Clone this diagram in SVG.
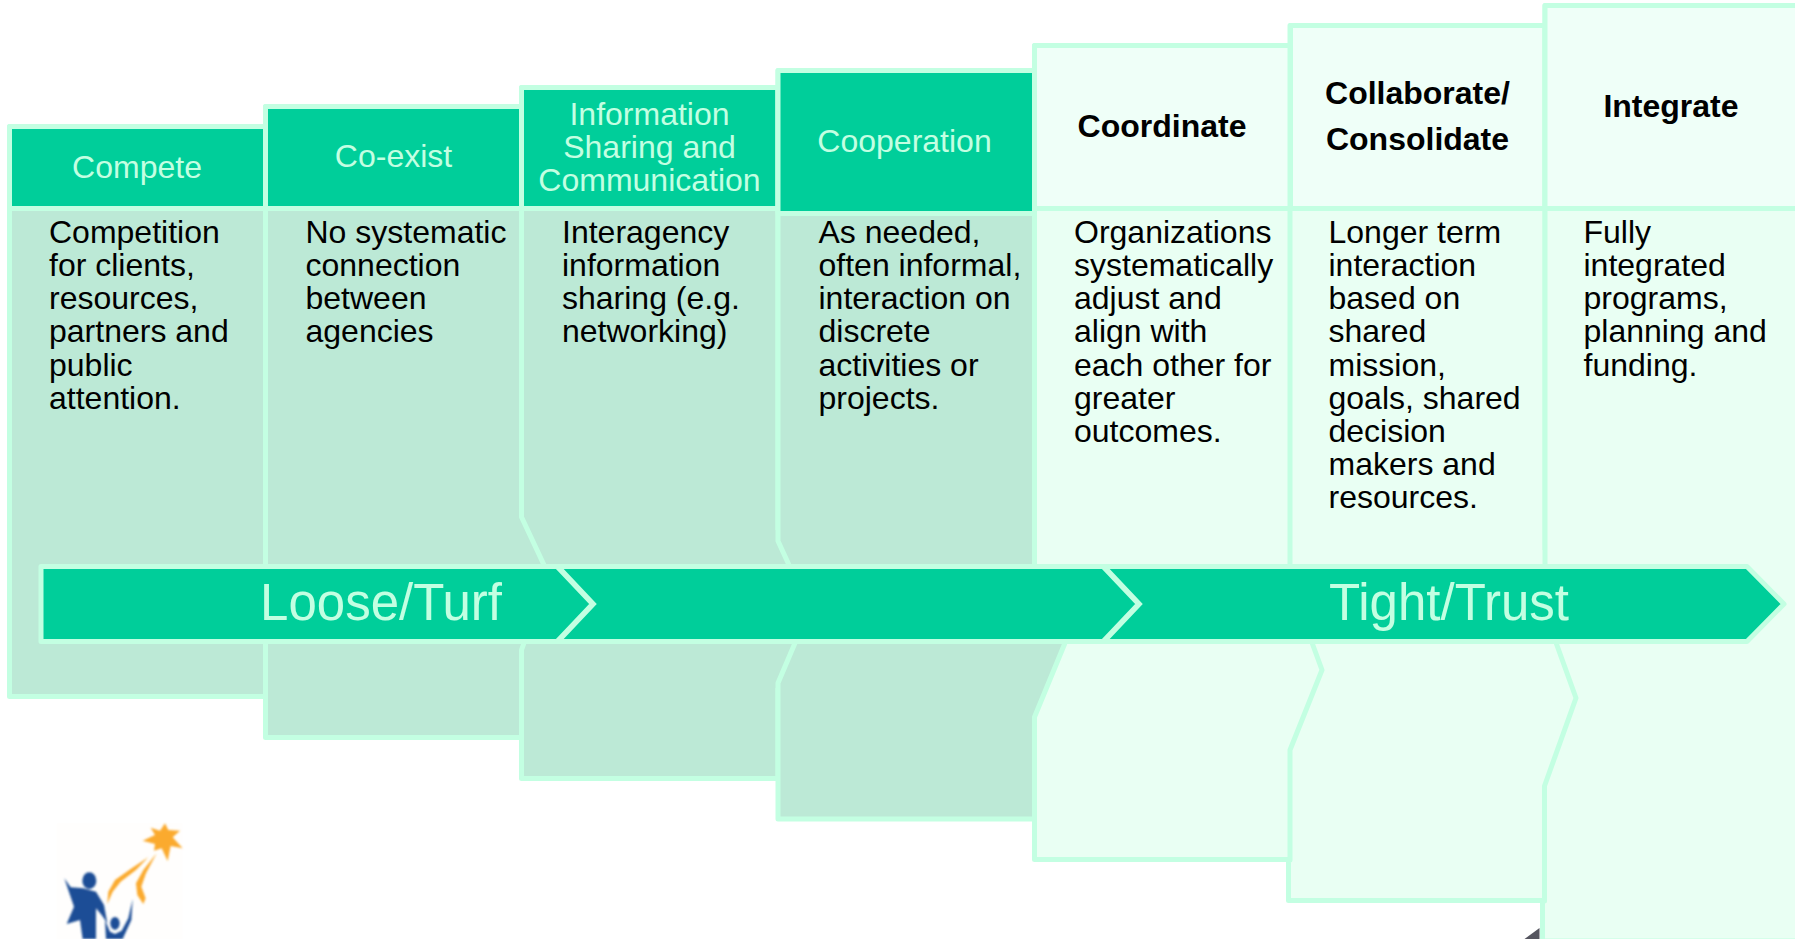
<svg xmlns="http://www.w3.org/2000/svg" width="1795" height="939" viewBox="0 0 1795 939">
<defs>
<style>
.b{stroke:#C3FFE2;stroke-width:5;stroke-linejoin:round}
.dk{fill:#BCE9D6}.lt{fill:#E9FFF3}
.hd{fill:#00CE9A}.hl{fill:#EFFFF8}
.body{font-family:"Liberation Sans",Arial,sans-serif;font-size:32px;fill:#000}
.h1{font-family:"Liberation Sans",Arial,sans-serif;font-size:32px;fill:#C3FFE2;text-anchor:middle}
.h2{font-family:"Liberation Sans",Arial,sans-serif;font-size:32px;font-weight:bold;fill:#000;text-anchor:middle}
.big{font-family:"Liberation Sans",Arial,sans-serif;font-size:51px;fill:#C3FFE2;text-anchor:middle}
.chev{fill:none;stroke:#C3FFE2;stroke-width:5.5}
</style>
<filter id="soft" x="-10%" y="-10%" width="120%" height="120%"><feGaussianBlur stdDeviation="2.5"/></filter>
</defs>
<rect width="1795" height="939" fill="#fff"/>

<g id="compete">
<path class="b dk" d="M9.5 126.5H265.5V696.5H9.5Z"/>
<rect class="b hd" x="9.5" y="126.5" width="256" height="82"/>
<text class="h1" x="137" y="177.5">Compete</text>
<text class="body" y="242.7"><tspan x="49">Competition</tspan><tspan x="49" dy="33.2">for clients,</tspan><tspan x="49" dy="33.2">resources,</tspan><tspan x="49" dy="33.2">partners and</tspan><tspan x="49" dy="33.2">public</tspan><tspan x="49" dy="33.2">attention.</tspan></text>
</g>
<g id="co-exist">
<path class="b dk" d="M265.5 106.5H521.5V737.5H265.5Z"/>
<rect class="dk" x="517" y="500" width="63" height="155"/>
<rect class="b hd" x="265.5" y="106.5" width="256" height="102"/>
<text class="h1" x="393.5" y="167">Co-exist</text>
<text class="body" y="242.7"><tspan x="305.5">No systematic</tspan><tspan x="305.5" dy="33.2">connection</tspan><tspan x="305.5" dy="33.2">between</tspan><tspan x="305.5" dy="33.2">agencies</tspan></text>
</g>
<g id="information-sharing">
<path class="b dk" d="M521.5 87.5H778V778.5H521.5V650L524 643L544 565L521.5 517Z"/>
<rect class="dk" x="774" y="530" width="62" height="158"/>
<rect class="b hd" x="521.5" y="87.5" width="256.5" height="121"/>
<text class="h1" x="649.5" y="125">Information</text>
<text class="h1" x="649.5" y="158">Sharing and</text>
<text class="h1" x="649.5" y="191">Communication</text>
<text class="body" y="242.7"><tspan x="562">Interagency</tspan><tspan x="562" dy="33.2">information</tspan><tspan x="562" dy="33.2">sharing (e.g.</tspan><tspan x="562" dy="33.2">networking)</tspan></text>
</g>
<g id="cooperation">
<path class="b dk" d="M778 70.5H1034.5V819H778V683L795 643L789 565L778 541Z"/>
<rect class="dk" x="1030" y="550" width="63" height="172"/>
<rect class="b hd" x="778" y="70.5" width="256.5" height="143"/>
<text class="h1" x="904.5" y="152">Cooperation</text>
<text class="body" y="242.7"><tspan x="818.5">As needed,</tspan><tspan x="818.5" dy="33.2">often informal,</tspan><tspan x="818.5" dy="33.2">interaction on</tspan><tspan x="818.5" dy="33.2">discrete</tspan><tspan x="818.5" dy="33.2">activities or</tspan><tspan x="818.5" dy="33.2">projects.</tspan></text>
</g>
<g id="coordinate">
<path class="b lt" d="M1034.5 45.5H1290.5V859.5H1034.5V717L1065 643L1034.5 566Z"/>
<rect class="lt" x="1286" y="550" width="62" height="205"/>
<rect class="b hl" x="1034.5" y="45.5" width="256" height="163"/>
<text class="h2" x="1162" y="137">Coordinate</text>
<text class="body" y="242.7"><tspan x="1074">Organizations</tspan><tspan x="1074" dy="33.2">systematically</tspan><tspan x="1074" dy="33.2">adjust and</tspan><tspan x="1074" dy="33.2">align with</tspan><tspan x="1074" dy="33.2">each other for</tspan><tspan x="1074" dy="33.2">greater</tspan><tspan x="1074" dy="33.2">outcomes.</tspan></text>
</g>
<g id="collaborate">
<path class="b lt" d="M1290 25.5H1545V900.5H1288.5V860H1290V750L1322 670L1312.5 644L1290 566Z"/>
<rect class="lt" x="1541" y="550" width="62" height="240"/>
<rect class="b hl" x="1290.5" y="25.5" width="254.5" height="183"/>
<text class="h2" x="1417.5" y="104">Collaborate/</text>
<text class="h2" x="1417.5" y="150">Consolidate</text>
<text class="body" y="242.7"><tspan x="1328.5">Longer term</tspan><tspan x="1328.5" dy="33.2">interaction</tspan><tspan x="1328.5" dy="33.2">based on</tspan><tspan x="1328.5" dy="33.2">shared</tspan><tspan x="1328.5" dy="33.2">mission,</tspan><tspan x="1328.5" dy="33.2">goals, shared</tspan><tspan x="1328.5" dy="33.2">decision</tspan><tspan x="1328.5" dy="33.2">makers and</tspan><tspan x="1328.5" dy="33.2">resources.</tspan></text>
</g>
<g id="integrate">
<path class="b lt" d="M1545 5.5H1800V941H1542.5V901H1544.5V786L1576 698L1556.5 644L1545 566Z"/>
<rect class="b hl" x="1545" y="5.5" width="255" height="203"/>
<text class="h2" x="1671" y="117">Integrate</text>
<text class="body" y="242.7"><tspan x="1583.5">Fully</tspan><tspan x="1583.5" dy="33.2">integrated</tspan><tspan x="1583.5" dy="33.2">programs,</tspan><tspan x="1583.5" dy="33.2">planning and</tspan><tspan x="1583.5" dy="33.2">funding.</tspan></text>
</g>

<g id="arrow">
<path class="b hd" d="M41 566.5H1747L1784 604L1747 641.5H41Z"/>
<polyline class="chev" points="557,566 593,604 557,642"/>
<polyline class="chev" points="1103,566 1139,604 1103,642"/>
<text class="big" x="381" y="620">Loose/Turf</text>
<text class="big" x="1449" y="620">Tight/Trust</text>
</g>

<g id="logo" transform="translate(0 780) scale(.3333)">
<rect x="170" y="130" width="378" height="347" fill="#FFFEFD"/>
<g filter="url(#soft)">
<path fill="#FBAA2E" d="M495 130L505 150L540 152L518 172L548 205L512 198L503 243L485 205L462 212L465 192L428 182L465 165L452 143L480 152Z"/>
<path fill="#FBAA2E" d="M445 232L395 265L345 300L325 335L322 372L338 335L362 305L408 270Z"/>
<path fill="#FBAA2E" d="M470 220L430 270L408 310L412 345L430 372L437 355L424 320L438 280Z"/>
<ellipse cx="268" cy="302" rx="21" ry="25" fill="#1F4E96"/>
<path fill="#1F4E96" d="M193 295L212 322L250 325L288 335L312 375L322 430L305 405L288 385L288 477H248L240 420L200 432L222 380L210 345Z"/>
<ellipse cx="345" cy="430" rx="14" ry="19" fill="#1F4E96"/>
<path fill="#1F4E96" d="M315 420L330 455L345 462L365 452L385 415L398 358L394 420L368 477H318Z"/>
</g>
</g>
<path id="corner" d="M1539.5 928V939H1524.5Z" fill="#55555F"/>
</svg>
